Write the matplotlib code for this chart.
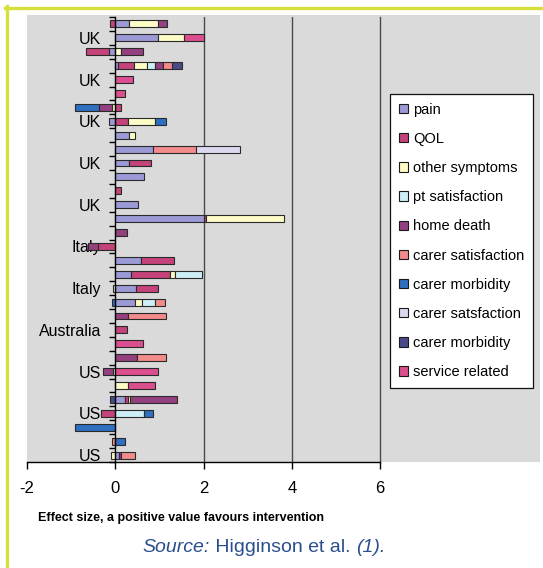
import numpy as np
import matplotlib
matplotlib.use("Agg")
import matplotlib.pyplot as plt
from matplotlib.patches import Patch, Rectangle
from matplotlib.lines import Line2D

plt.rcParams["font.family"] = ["Liberation Sans", "DejaVu Sans"]

# Studies (rows, top to bottom); labels shown on every third row
row_labels = {1: "UK", 4: "UK", 7: "UK", 10: "UK", 13: "UK",
              16: "Italy", 19: "Italy", 22: "Australia",
              25: "US", 28: "US", 31: "US"}
n_rows = 32

series_names = ["pain", "QOL", "other symptoms", "pt satisfaction", "home death",
                "carer satisfaction", "carer morbidity", "carer satsfaction",
                "carer morbidity", "service related"]

# Effect sizes per outcome, one value per row (top to bottom)
pain = [0.32, 0.98, -0.14, 0.07, 0, 0, 0, -0.15, 0.31, 0.85,
        0.31, 0.66, 0, 0.51, 2.00, 0, 0, 0.58, 0.36, 0.46,
        0.45, 0, 0, 0, 0, 0, 0, 0.22, 0, 0,
        0, 0.09]
qol = [-0.12, 0, -0.52, 0.35, 0, 0, 0.12, 0.28, 0, 0,
       0.51, 0, 0.12, 0, 0.06, 0, -0.40, 0.76, 0.87, 0.50,
       0, 0, 0.26, 0, 0, 0, 0, 0.06, -0.33, 0,
       0, 0]
other_symptoms = [0.65, 0.58, 0.13, 0.29, 0, 0, -0.08, 0.61, 0.13, 0,
                  0, 0, 0, 0, 1.77, 0, 0, 0, 0.13, -0.05,
                  0.16, 0, 0, 0, 0, -0.06, 0.30, 0.06, 0, 0,
                  0, -0.09]
pt_satisfaction = [0, 0, 0, 0.20, 0, 0, 0, 0, 0, 0,
                   0, 0, 0, 0, 0, 0, 0, 0, 0.60, 0,
                   0.30, 0, 0, 0, 0, 0, 0, 0, 0.66, 0,
                   0, 0]
home_death = [0.20, 0, 0.50, 0.17, 0, 0, -0.28, 0, 0, 0,
              0, 0, 0, 0, 0, 0.26, -0.22, 0, 0, 0,
              0, 0.29, 0, 0, 0.49, -0.22, 0, 1.07, 0, 0,
              0, 0.04]
carer_satisfaction = [0, 0, 0, 0.20, 0, 0, 0, 0, 0, 0.99,
                      0, 0, 0, 0, 0, 0, 0, 0, 0, 0,
                      0.21, 0.86, 0, 0, 0.65, 0, 0, 0, 0, 0,
                      -0.07, 0.32]
carer_morbidity = [0, 0, 0, 0, 0, 0, -0.55, 0.27, 0, 0,
                   0, 0, 0, 0, 0, 0, 0, 0, 0, 0,
                   -0.08, 0, 0, 0, 0, 0, 0, 0, 0.19, -0.92,
                   0.21, 0]
carer_satsfaction = [0, 0, 0, 0, 0, 0, 0, 0, 0, 0.98,
                     0, 0, 0, 0, 0, 0, 0, 0, 0, 0,
                     0, 0, 0, 0, 0, 0, 0, 0, 0, 0,
                     0, 0]
carer_morbidity_2 = [0, 0, 0, 0.23, 0, 0, 0, 0, 0, 0,
                     0, 0, 0, 0, 0, 0, 0, 0, 0, 0,
                     0, 0, 0, 0, 0, 0, 0, -0.11, 0, 0,
                     0, 0]
service_related = [0, 0.44, 0, 0, 0.40, 0.22, 0, 0, 0, 0,
                   0, 0, 0, 0, 0, 0, 0, 0, 0, 0,
                   0, 0, 0, 0.63, 0, 0.96, 0.61, 0, 0, 0,
                   0, 0]

series_values = [pain, qol, other_symptoms, pt_satisfaction, home_death,
                 carer_satisfaction, carer_morbidity, carer_satsfaction,
                 carer_morbidity_2, service_related]

colors = ["#9c9ad6", "#c4437a", "#fdfbc6", "#cdeef6", "#94407f",
          "#f28b8b", "#2f6fc0", "#dcd8f0", "#4a4a8a", "#dc4f8e"]

W, H = 543, 568
fig = plt.figure(figsize=(W / 100, H / 100), dpi=100)
fig.patch.set_facecolor("white")

def fx(px):
    return px / W

def fy(py):
    return 1 - py / H

# grey chart area behind the plot and legend
fig.add_artist(Rectangle((fx(27), fy(462)), fx(540) - fx(27), fy(15) - fy(462),
                         transform=fig.transFigure, facecolor="#dadada",
                         edgecolor="none", zorder=0))

# frame rules along the top and left
fig.add_artist(Line2D([fx(5), fx(543)], [fy(7.5), fy(7.5)], transform=fig.transFigure,
                      color="#d6e03c", lw=2.4))
fig.add_artist(Line2D([fx(6.5), fx(6.5)], [fy(6), fy(568)], transform=fig.transFigure,
                      color="#d6e03c", lw=2.4))

ax = fig.add_axes([fx(27), fy(462), fx(380) - fx(27), fy(17) - fy(462)])
ax.set_facecolor("#dadada")

y = np.arange(n_rows)
pos_left = np.zeros(n_rows)
neg_left = np.zeros(n_rows)
for vals, col in zip(series_values, colors):
    v = np.asarray(vals, dtype=float)
    left = np.where(v >= 0, pos_left, neg_left)
    m = v != 0
    ax.barh(y[m], v[m], left=left[m], height=0.5, color=col,
            edgecolor="#2a2a2a", linewidth=0.8, zorder=3)
    pos_left = pos_left + np.where(v > 0, v, 0)
    neg_left = neg_left + np.where(v < 0, v, 0)

ax.set_xlim(-2, 6)
ax.set_ylim(n_rows - 0.5, -0.5)

for gx in (2, 4):
    ax.axvline(gx, color="#4a4a4a", lw=1.0, zorder=1)

for s in ("top", "left"):
    ax.spines[s].set_visible(False)
ax.spines["right"].set_color("#4a4a4a")
ax.spines["right"].set_linewidth(1.0)
ax.spines["bottom"].set_linewidth(1.0)
ax.spines["left"].set_visible(True)
ax.spines["left"].set_position(("data", 0))
ax.spines["left"].set_linewidth(1.0)
ax.spines["left"].set_zorder(4)

ax.set_xticks([-2, 0, 2, 4, 6])
ax.set_xticklabels(["-2", "0", "2", "4", "6"])
ax.tick_params(axis="x", direction="out", length=5, width=1, labelsize=12, pad=9)

ax.set_yticks(list(row_labels.keys()))
ax.set_yticklabels(list(row_labels.values()))
ax.set_yticks(np.arange(n_rows + 1) - 0.5, minor=True)
ax.tick_params(axis="y", which="major", length=0, labelsize=11.5, pad=10)
ax.tick_params(axis="y", which="minor", direction="out", length=4, width=1)

fig.text(fx(38), fy(518), "Effect size, a positive value favours intervention",
         ha="left", va="center", fontsize=9, fontweight="bold",
         family=["Liberation Sans Narrow", "Liberation Sans"])

handles = [Patch(facecolor=c, edgecolor="#1a1a1a", linewidth=0.8) for c in colors]
leg = fig.legend(handles, series_names, loc="upper left",
                 bbox_to_anchor=(fx(390), fy(94)), frameon=True, fancybox=False,
                 fontsize=10.5, handlelength=0.6, handleheight=0.6,
                 handletextpad=0.4, labelspacing=1.04, borderpad=0.6,
                 borderaxespad=0)
leg.get_frame().set_edgecolor("#111111")
leg.get_frame().set_linewidth(0.9)
leg.get_frame().set_facecolor("white")
leg.get_frame().set_alpha(1)

# source line with mixed styles, centred
fig.canvas.draw()
renderer = fig.canvas.get_renderer()
pieces = [("Source:", "italic"), (" Higginson et al. ", "normal"), ("(1).", "italic")]
texts = []
for s, st in pieces:
    t = fig.text(0, fy(548), s, fontsize=14, style=st, color="#2b4f8e",
                 ha="left", va="center")
    texts.append(t)
widths = [t.get_window_extent(renderer).width for t in texts]
x = 264 - sum(widths) / 2
for t, w in zip(texts, widths):
    t.set_x(fx(x))
    x += w

fig.savefig("out.png", dpi=100)
